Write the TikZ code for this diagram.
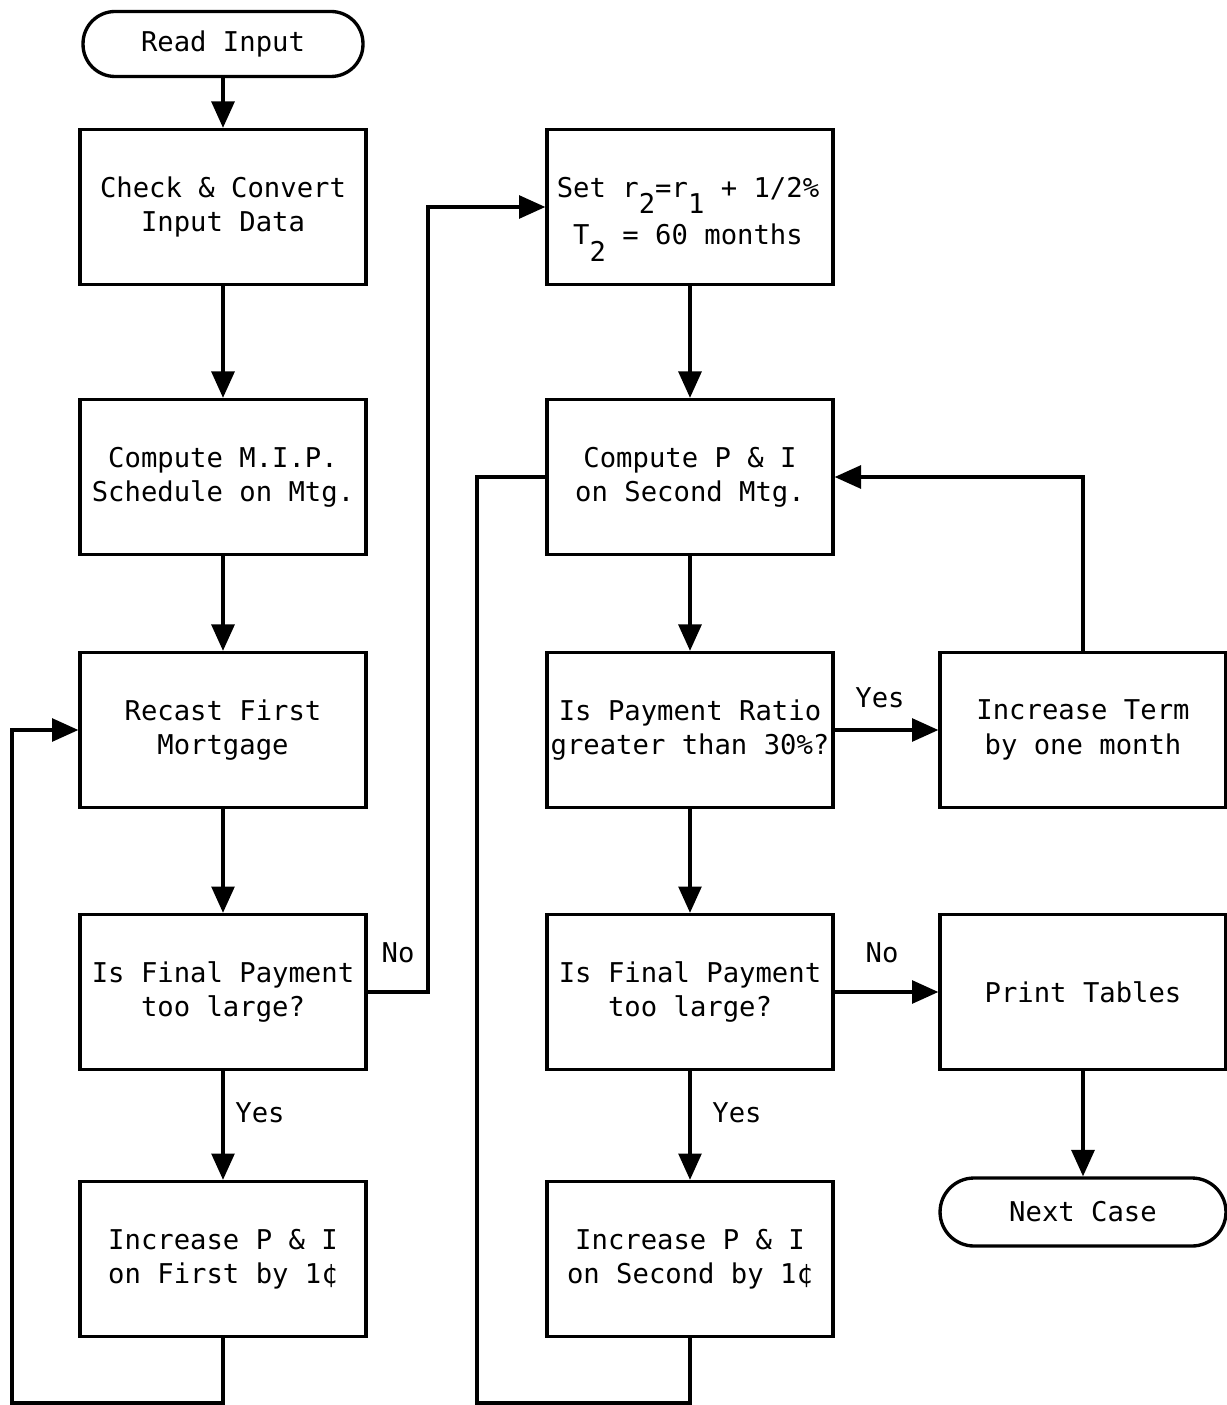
\documentclass[tikz,border=0pt]{standalone}
\usepackage{fontspec}
\setmainfont{DejaVu Sans Mono}
\usetikzlibrary{arrows.meta}
\newcommand\lowsub[1]{\raisebox{-0.6em}{#1}}
\begin{document}
\begin{tikzpicture}[x=0.02cm,y=-0.02cm,
  every node/.style={font=\fontsize{15.5}{19.5}\selectfont},
  box/.style={draw,line width=1.9pt,align=center,inner sep=0pt,minimum width=5.72cm,minimum height=3.1cm},
  term/.style={box,minimum height=1.3cm,rounded corners=0.64cm},
  link/.style={line width=1.9pt},
  arr/.style={link,-{Triangle[length=15pt,width=13pt]}},
  lbl/.style={inner sep=0pt}]
\useasboundingbox (0,0) rectangle (1226,1405);
% left column
\node[term,minimum width=5.6cm] (read) at (223,44) {Read Input};
\node[box] (check) at (223,207) {Check \& Convert\\Input Data};
\node[box] (mip) at (223,477) {Compute M.I.P.\\Schedule on Mtg.};
\node[box] (recast) at (223,730) {Recast First\\Mortgage};
\node[box] (fin1) at (223,992) {Is Final Payment\\too large?};
\node[box] (inc1) at (223,1259) {Increase P \& I\\on First by 1¢};
% middle column
\node[box] (set) at (690,207) {};
\node[lbl,align=center] (settext) at (688,219) {Set r\lowsub{2}=r\lowsub{1} + 1/2\%\\[5pt] T\lowsub{2} = 60 months};
\node[box] (pi2) at (690,477) {Compute P \& I\\on Second Mtg.};
\node[box] (ratio) at (690,730) {Is Payment Ratio\\greater than 30\%?};
\node[box] (fin2) at (690,992) {Is Final Payment\\too large?};
\node[box] (inc2) at (690,1259) {Increase P \& I\\on Second by 1¢};
% right column
\node[box] (term) at (1083,730) {Increase Term\\by one month};
\node[box] (print) at (1083,992) {Print Tables};
\node[term,minimum width=5.72cm,minimum height=1.36cm,rounded corners=0.68cm] (next) at (1083,1212) {Next Case};
% corner coordinates
\coordinate (lb) at (12,1403);
\coordinate (nob) at (428,992);
\coordinate (mb) at (477,1403);
% connectors
\draw[arr] (read) -- (check);
\draw[arr] (check) -- (mip);
\draw[arr] (mip) -- (recast);
\draw[arr] (recast) -- (fin1);
\draw[arr] (fin1) -- (inc1);
\draw[arr] (inc1.south) |- (lb) |- (recast.west);
\draw[arr] (fin1.east) -- (nob) |- (set.west);
\draw[arr] (set) -- (pi2);
\draw[arr] (pi2) -- (ratio);
\draw[arr] (ratio) -- (fin2);
\draw[arr] (fin2) -- (inc2);
\draw[link] (inc2.south) |- (mb) |- (pi2.west);
\draw[arr] (ratio) -- (term);
\draw[arr] (term.north) |- (pi2.east);
\draw[arr] (fin2) -- (print);
\draw[arr] (print) -- (next);
% labels
\node[lbl] (y1) at (260,1113) {Yes};
\node[lbl] (n1) at (398,953) {No};
\node[lbl] (y2) at (880,698) {Yes};
\node[lbl] (n2) at (882,953) {No};
\node[lbl] (y3) at (737,1113) {Yes};
\end{tikzpicture}
\end{document}
